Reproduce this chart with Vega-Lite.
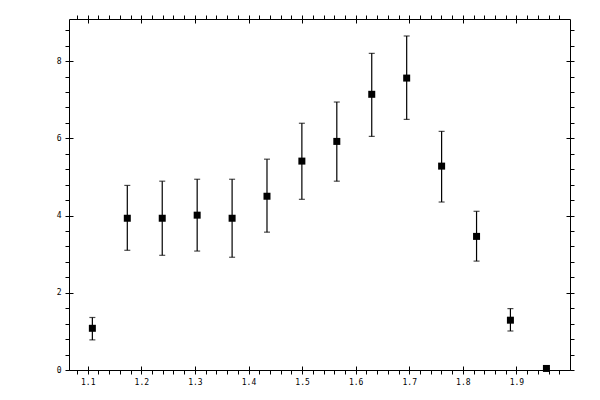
{
  "$schema": "https://vega.github.io/schema/vega-lite/v6.json",
  "width": 501,
  "height": 351,
  "autosize": {"type": "none"},
  "padding": {"left": 69, "top": 19, "right": 30, "bottom": 30},
  "background": "white",
  "config": {
    "view": {"stroke": null},
    "axis": {
      "grid": false,
      "title": null,
      "domainColor": "black",
      "domainWidth": 1,
      "tickColor": "black",
      "tickWidth": 1,
      "tickSize": 4,
      "labelFont": "DejaVu Sans Mono",
      "labelFontSize": 8,
      "labelColor": "black",
      "labelPadding": 4,
      "labelFlush": false,
      "labelOverlap": false,
      "labelBound": false
    }
  },
  "data": {
    "values": [
      {"x": 1.1086, "y": 1.08, "lo": 0.78, "hi": 1.36},
      {"x": 1.1738, "y": 3.93, "lo": 3.10, "hi": 4.78},
      {"x": 1.2390, "y": 3.93, "lo": 2.97, "hi": 4.89},
      {"x": 1.3042, "y": 4.01, "lo": 3.08, "hi": 4.94},
      {"x": 1.3694, "y": 3.93, "lo": 2.92, "hi": 4.94},
      {"x": 1.4345, "y": 4.50, "lo": 3.57, "hi": 5.46},
      {"x": 1.4996, "y": 5.41, "lo": 4.42, "hi": 6.39},
      {"x": 1.5648, "y": 5.92, "lo": 4.89, "hi": 6.94},
      {"x": 1.6300, "y": 7.14, "lo": 6.05, "hi": 8.20},
      {"x": 1.6952, "y": 7.56, "lo": 6.49, "hi": 8.65},
      {"x": 1.7604, "y": 5.28, "lo": 4.35, "hi": 6.18},
      {"x": 1.8256, "y": 3.46, "lo": 2.82, "hi": 4.11},
      {"x": 1.8888, "y": 1.29, "lo": 1.01, "hi": 1.59},
      {"x": 1.9560, "y": 0.04, "lo": 0.04, "hi": 0.04}
    ]
  },
  "resolve": {"axis": {"x": "independent", "y": "independent"}},
  "layer": [
    {
      "mark": {"type": "rule", "color": "black", "strokeWidth": 1.2},
      "encoding": {
        "x": {
          "field": "x", "type": "quantitative",
          "scale": {"domain": [1.065, 2.0], "nice": false, "zero": false},
          "axis": {
            "orient": "bottom",
            "values": [1.08, 1.1, 1.12, 1.14, 1.16, 1.18, 1.2, 1.22, 1.24, 1.26, 1.28, 1.3, 1.32, 1.34, 1.36, 1.38, 1.4, 1.42, 1.44, 1.46, 1.48, 1.5, 1.52, 1.54, 1.56, 1.58, 1.6, 1.62, 1.64, 1.66, 1.68, 1.7, 1.72, 1.74, 1.76, 1.78, 1.8, 1.82, 1.84, 1.86, 1.88, 1.9, 1.92, 1.94, 1.96, 1.98],
            "labelExpr": "abs(datum.value * 10 - round(datum.value * 10)) < 0.001 ? format(datum.value, '.1f') : ''"
          }
        },
        "y": {
          "field": "lo", "type": "quantitative",
          "scale": {"domain": [0, 9.09], "nice": false},
          "axis": {
            "orient": "left",
            "values": [0, 0.4, 0.8, 1.2, 1.6, 2, 2.4, 2.8, 3.2, 3.6, 4, 4.4, 4.8, 5.2, 5.6, 6, 6.4, 6.8, 7.2, 7.6, 8, 8.4, 8.8],
            "labelExpr": "abs(datum.value / 2 - round(datum.value / 2)) < 0.001 ? format(datum.value, 'd') : ''"
          }
        },
        "y2": {"field": "hi"}
      }
    },
    {
      "mark": {"type": "tick", "orient": "horizontal", "color": "black", "size": 6, "thickness": 1.2},
      "encoding": {
        "x": {
          "field": "x", "type": "quantitative",
          "scale": {"domain": [1.065, 2.0], "nice": false, "zero": false},
          "axis": {
            "orient": "top",
            "labels": false,
            "values": [1.08, 1.1, 1.12, 1.14, 1.16, 1.18, 1.2, 1.22, 1.24, 1.26, 1.28, 1.3, 1.32, 1.34, 1.36, 1.38, 1.4, 1.42, 1.44, 1.46, 1.48, 1.5, 1.52, 1.54, 1.56, 1.58, 1.6, 1.62, 1.64, 1.66, 1.68, 1.7, 1.72, 1.74, 1.76, 1.78, 1.8, 1.82, 1.84, 1.86, 1.88, 1.9, 1.92, 1.94, 1.96, 1.98]
          }
        },
        "y": {
          "field": "hi", "type": "quantitative",
          "scale": {"domain": [0, 9.09], "nice": false},
          "axis": {
            "orient": "right",
            "labels": false,
            "values": [0, 0.4, 0.8, 1.2, 1.6, 2, 2.4, 2.8, 3.2, 3.6, 4, 4.4, 4.8, 5.2, 5.6, 6, 6.4, 6.8, 7.2, 7.6, 8, 8.4, 8.8]
          }
        }
      }
    },
    {
      "mark": {"type": "tick", "orient": "horizontal", "color": "black", "size": 6, "thickness": 1.2},
      "encoding": {
        "x": {
          "field": "x", "type": "quantitative",
          "scale": {"domain": [1.065, 2.0], "nice": false, "zero": false},
          "axis": {"orient": "bottom", "labels": false, "domain": false, "tickSize": -4, "values": [1.1, 1.2, 1.3, 1.4, 1.5, 1.6, 1.7, 1.8, 1.9]}
        },
        "y": {
          "field": "lo", "type": "quantitative",
          "scale": {"domain": [0, 9.09], "nice": false},
          "axis": {"orient": "left", "labels": false, "domain": false, "tickSize": -4, "values": [0, 2, 4, 6, 8]}
        }
      }
    },
    {
      "mark": {"type": "point", "shape": "square", "filled": true, "color": "black", "opacity": 1, "size": 49},
      "encoding": {
        "x": {
          "field": "x", "type": "quantitative",
          "scale": {"domain": [1.065, 2.0], "nice": false, "zero": false},
          "axis": {"orient": "top", "labels": false, "domain": false, "tickSize": -4, "values": [1.1, 1.2, 1.3, 1.4, 1.5, 1.6, 1.7, 1.8, 1.9]}
        },
        "y": {
          "field": "y", "type": "quantitative",
          "scale": {"domain": [0, 9.09], "nice": false},
          "axis": {"orient": "right", "labels": false, "domain": false, "tickSize": -4, "values": [0, 2, 4, 6, 8]}
        }
      }
    }
  ]
}
